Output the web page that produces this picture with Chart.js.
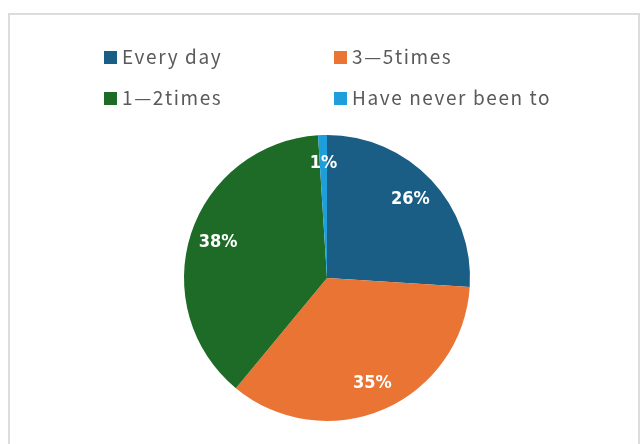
<!DOCTYPE html>
<html lang="en">
<head>
    <meta charset="UTF-8">
    <title>Visit frequency</title>
    <script src="https://cdn.jsdelivr.net/npm/chart.js"></script>
    <style>
        body { margin: 0; background: #fff; }
        #frame {
            position: absolute; left: 8px; top: 13px;
            width: 628px; height: 440px;
            border: 2px solid #dcdcdc;
        }
        #pieChart { position: absolute; left: 0; top: 0; }
    </style>
</head>
<body>
    <div id="frame"></div>
    <canvas id="pieChart" width="641" height="444"></canvas>

    <script>
        const categories = ["Every day", "3\u20145times", "1\u20142times", "Have never been to"];
        const shares = [26, 35, 38, 1];
        const sliceColors = ["#1a5e86", "#ea7434", "#1d6b27", "#1e9edb"];

        // legend drawn as two columns, like the original
        const gridLegend = {
            id: "gridLegend",
            afterDraw(chart) {
                const ctx = chart.ctx;
                const colX = [104, 334];
                const rowY = [57, 98];
                ctx.save();
                ctx.font = "19px 'Noto Sans CJK SC'";
                ctx.letterSpacing = "1.6px";
                ctx.textBaseline = "middle";
                chart.data.labels.forEach((lab, i) => {
                    const x = colX[i % 2], y = rowY[Math.floor(i / 2)];
                    ctx.fillStyle = chart.data.datasets[0].backgroundColor[i];
                    ctx.fillRect(x, y - 6, 13, 13);
                    ctx.fillStyle = "#5a5a5a";
                    ctx.fillText(lab, x + 18, y);
                });
                ctx.restore();
            }
        };

        // percentage labels inside the slices
        const sliceLabels = {
            id: "sliceLabels",
            afterDatasetsDraw(chart) {
                const ctx = chart.ctx;
                const meta = chart.getDatasetMeta(0);
                const vals = chart.data.datasets[0].data;
                const total = vals.reduce((a, b) => a + b, 0);
                ctx.save();
                ctx.font = "bold 18px 'DejaVu Sans Condensed'";
                ctx.fillStyle = "#fff";
                ctx.textAlign = "center";
                ctx.textBaseline = "middle";
                meta.data.forEach((arc, i) => {
                    const mid = (arc.startAngle + arc.endAngle) / 2;
                    const r = arc.outerRadius * 0.8;
                    const pct = Math.round(vals[i] / total * 100) + "%";
                    ctx.fillText(pct, arc.x + Math.cos(mid) * r, arc.y + Math.sin(mid) * r);
                });
                ctx.restore();
            }
        };

        const ctx = document.getElementById("pieChart").getContext("2d");
        new Chart(ctx, {
            type: "pie",
            data: {
                labels: categories,
                datasets: [{
                    data: shares,
                    backgroundColor: sliceColors,
                    borderWidth: 0
                }]
            },
            options: {
                responsive: false,
                animation: false,
                layout: { padding: { left: 184, right: 171, top: 135, bottom: 23 } },
                plugins: {
                    legend: { display: false },
                    tooltip: { enabled: false }
                }
            },
            plugins: [gridLegend, sliceLabels]
        });
    </script>
</body>
</html>
